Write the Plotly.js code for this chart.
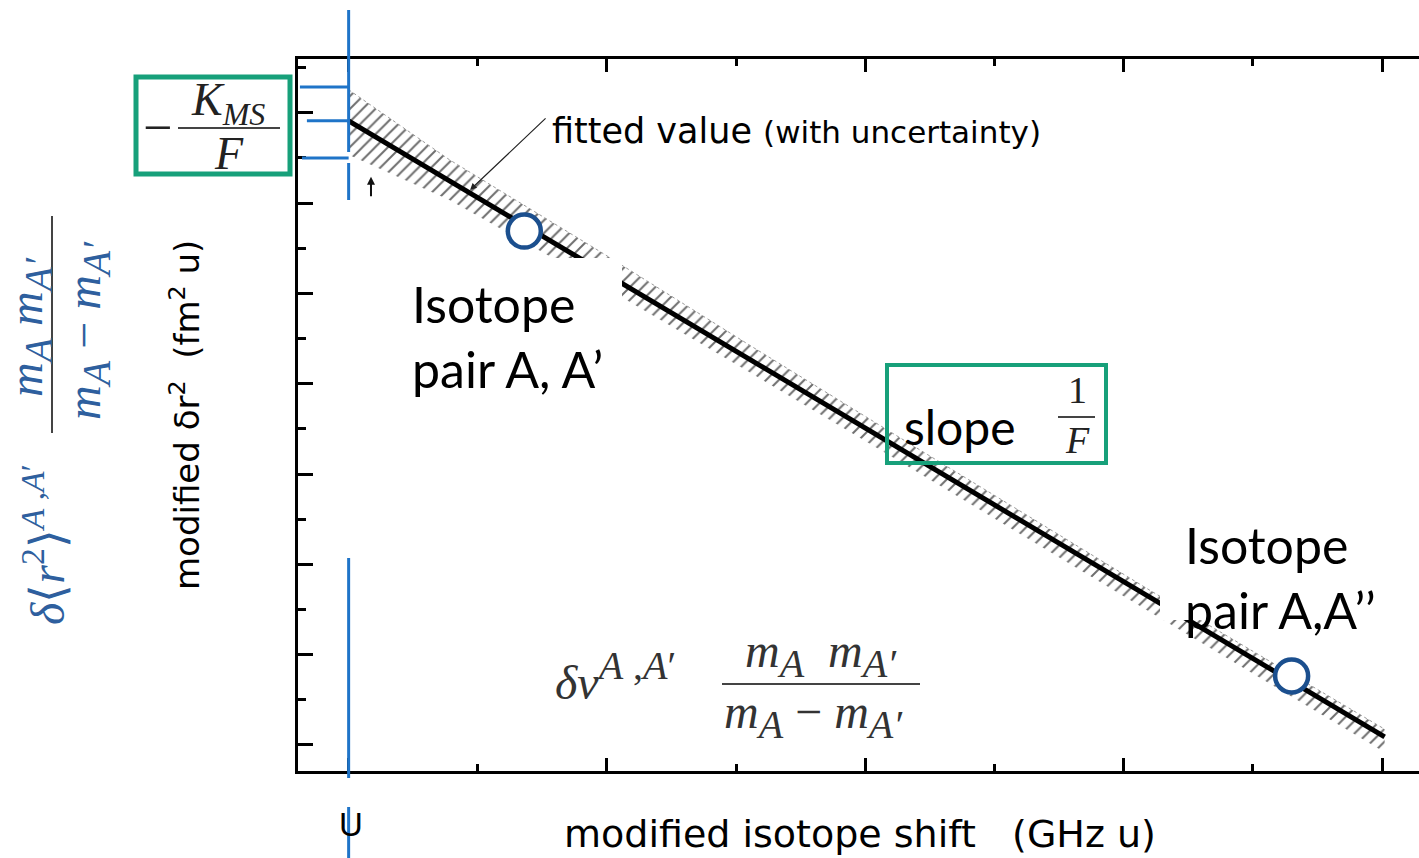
<!DOCTYPE html>
<html>
<head>
<meta charset="utf-8">
<script src="https://cdn.plot.ly/plotly-3.0.1.min.js"></script>
<style>
  html, body { margin: 0; padding: 0; background: #ffffff; }
  #chart { width: 1419px; height: 858px; }
</style>
</head>
<body>
<div id="chart"></div>
<script>
// King-plot style schematic: fitted straight line with its uncertainty band,
// two isotope-pair points and the intercept / slope annotations.

// fitted line (x in GHz u, y in fm^2 u, arbitrary units)
const fitX = [0, 8.02];
const fitY = [13.82, 0.18];

// uncertainty band around the fitted line
const bandX = [0, 0.78, 1.95, 3.1, 4.27, 6.2, 8.02];
const bandUpper = [14.51, 12.96, 10.92, 8.86, 6.80, 3.43, 0.35];
const bandLower = [13.07, 12.07, 10.19, 8.26, 6.27, 2.95, -0.16];

// measured isotope pairs (A,A') and (A,A'')
const pairNames = ["A, A\u2032", "A, A\u2033"];
const pairX = [1.36, 7.30];
const pairY = [11.38, 1.53];

// intercept at x = 0 : upper limit, fitted value, lower limit
const interceptY = [14.57, 13.82, 13.0];

// axis extents
const xRange = [-0.392, 8.286];
const yRange = [-0.576, 15.19];

// ---- layout helpers (pixel position in the 1419x858 page -> paper units)
const W = 1419, H = 858;
const M = { l: 298, r: 0, t: 59, b: 87 };
const PW = W - M.l - M.r, PH = H - M.t - M.b;
const PX = px => (px - M.l) / PW;
const PY = py => (H - M.b - py) / PH;

const BLUE = "#1f74c8";
const GREEN = "#17a07a";
const RING = "#1b4f8e";
const MATH = "Liberation Serif";
const SANS = "DejaVu Sans";
const SLIDE = "Lato";

// italic subscript that stays fairly large
const sub = (s, size) => "<sub><span style=\"font-size:" + size + "px\"><i>" + s + "</i></span></sub>";

const traces = [
  { // lower edge of the band
    x: bandX, y: bandLower, mode: "lines",
    line: { width: 0, color: "rgba(0,0,0,0)" },
    hoverinfo: "skip", showlegend: false
  },
  { // upper edge of the band, hatched down to the lower edge
    x: bandX, y: bandUpper, mode: "lines",
    line: { width: 1, color: "#9a9a9a", dash: "dot" },
    fill: "tonexty",
    fillcolor: "rgba(255,255,255,0)",
    fillpattern: { shape: "/", fgcolor: "#6e6e6e", bgcolor: "rgba(255,255,255,0)", size: 9, solidity: 0.22 },
    hoverinfo: "skip", showlegend: false
  },
  { // fitted line
    x: fitX, y: fitY, mode: "lines",
    line: { color: "#000000", width: 5 },
    hoverinfo: "skip", showlegend: false
  },
  { // isotope pairs
    x: pairX, y: pairY, text: pairNames, mode: "markers",
    marker: { symbol: "circle", size: 33, color: "#ffffff", line: { color: RING, width: 4.5 } },
    hoverinfo: "text", showlegend: false
  }
];

const shapes = [
  // white masks behind the isotope-pair labels
  { type: "rect", xref: "paper", yref: "paper", x0: PX(405), x1: PX(622), y0: PY(400), y1: PY(258),
    fillcolor: "#ffffff", line: { width: 0 }, layer: "above" },
  { type: "rect", xref: "paper", yref: "paper", x0: PX(1160), x1: PX(1419), y0: PY(620), y1: PY(518),
    fillcolor: "#ffffff", line: { width: 0 }, layer: "above" },

  // green boxes
  { type: "rect", xref: "paper", yref: "paper", x0: PX(136), x1: PX(290), y0: PY(174), y1: PY(77),
    line: { color: GREEN, width: 5 }, fillcolor: "rgba(0,0,0,0)", layer: "above" },
  { type: "rect", xref: "paper", yref: "paper", x0: PX(887), x1: PX(1106), y0: PY(463), y1: PY(365),
    line: { color: GREEN, width: 4 }, fillcolor: "rgba(0,0,0,0)", layer: "above" },

  // fraction bars
  { type: "line", xref: "paper", yref: "paper", x0: PX(178), x1: PX(280), y0: PY(128), y1: PY(128),
    line: { color: "#444444", width: 2 }, layer: "above" },
  { type: "line", xref: "paper", yref: "paper", x0: PX(1058), x1: PX(1095), y0: PY(417), y1: PY(417),
    line: { color: "#444444", width: 2 }, layer: "above" },
  { type: "line", xref: "paper", yref: "paper", x0: PX(722), x1: PX(920), y0: PY(684), y1: PY(684),
    line: { color: "#444444", width: 2 }, layer: "above" },
  { type: "line", xref: "paper", yref: "paper", x0: PX(52), x1: PX(52), y0: PY(216), y1: PY(433),
    line: { color: "#444444", width: 2 }, layer: "above" },

  // blue marker of x = 0 with the intercept bracket
  { type: "line", xref: "x", yref: "paper", x0: 0, x1: 0, y0: PY(10), y1: PY(152),
    line: { color: BLUE, width: 3 }, layer: "above" },
  { type: "line", xref: "x", yref: "paper", x0: 0, x1: 0, y0: PY(163), y1: PY(200),
    line: { color: BLUE, width: 3 }, layer: "above" },
  { type: "line", xref: "x", yref: "paper", x0: 0, x1: 0, y0: PY(558), y1: PY(778),
    line: { color: BLUE, width: 3 }, layer: "above" },
  { type: "line", xref: "x", yref: "paper", x0: 0, x1: 0, y0: PY(807), y1: PY(860),
    line: { color: BLUE, width: 3 }, layer: "above" },
  { type: "line", xref: "x", yref: "y", x0: -0.377, x1: 0, y0: interceptY[0], y1: interceptY[0],
    line: { color: BLUE, width: 3 }, layer: "above" },
  { type: "line", xref: "x", yref: "y", x0: -0.323, x1: 0, y0: interceptY[1], y1: interceptY[1],
    line: { color: BLUE, width: 3 }, layer: "above" },
  { type: "line", xref: "x", yref: "y", x0: -0.361, x1: 0, y0: interceptY[2], y1: interceptY[2],
    line: { color: BLUE, width: 3 }, layer: "above" }
];

function note(text, px, py, font, extra) {
  return Object.assign({
    text: text, xref: "paper", yref: "paper", x: PX(px), y: PY(py),
    xanchor: "center", yanchor: "middle", showarrow: false, font: font
  }, extra || {});
}

const mathDark = { family: MATH, size: 46, color: "#222222" };
const mathBlue = { family: MATH, size: 48, color: "#2e5f9e" };
const mathLow = { family: MATH, size: 48, color: "#333333" };

const annotations = [
  // -K_MS / F
  note("\u2212", 157, 127, { family: MATH, size: 52, color: "#222222" }),
  note("<i>K</i>" + sub("MS", 32), 228, 103, mathDark),
  note("<i>F</i>", 229, 153, mathDark),

  // rotated formula on the far left
  note("<i>\u03b4</i>\u27e8<i>r</i><sup>2</sup>\u27e9<sup><i>A</i> ,<i>A</i>\u2032</sup>", 44, 545, mathBlue, { textangle: -90 }),
  note("<i>m</i>" + sub("A", 40) + "\u00a0<i>m</i>" + sub("A\u2032", 40), 30, 327, mathBlue, { textangle: -90 }),
  note("<i>m</i>" + sub("A", 40) + " \u2212 <i>m</i>" + sub("A\u2032", 40), 88, 330, mathBlue, { textangle: -90 }),

  // axis titles
  note("modified \u03b4r<sup>2</sup>\u00a0\u00a0(fm<sup>2</sup> u)", 185, 415,
       { family: SANS, size: 34, color: "#000000" }, { textangle: -90 }),
  note("modified isotope shift\u00a0\u00a0\u00a0(GHz u)", 860, 834,
       { family: SANS, size: 38, color: "#000000" }),
  note("U", 351, 824, { family: "Liberation Sans", size: 33, color: "#000000" }),

  // fitted value label + arrow
  note("fitted value <span style=\"font-size:31px\">(with uncertainty)</span>", 550, 131,
       { family: SANS, size: 35, color: "#000000" }, { xanchor: "left" }),
  { text: "", xref: "x", yref: "y", x: 0.94, y: 12.29, ax: 77, ay: -73,
    showarrow: true, arrowhead: 2, arrowsize: 1.1, arrowwidth: 1.2, arrowcolor: "#222222", standoff: 0 },
  { text: "", xref: "x", yref: "y", x: 0.173, y: 12.58, ax: 0, ay: 21,
    showarrow: true, arrowhead: 2, arrowsize: 0.8, arrowwidth: 2, arrowcolor: "#111111", standoff: 0 },

  // isotope pair labels
  note("Isotope<br>pair " + pairNames[0].replace("\u2032", "\u2019"), 410, 336,
       { family: SLIDE, size: 50, color: "#000000" }, { xanchor: "left", align: "left" }),
  note("Isotope<br>pair " + pairNames[1].replace(" ", "").replace("\u2033", "\u2019\u2019"), 1183, 577,
       { family: SLIDE, size: 50, color: "#000000" }, { xanchor: "left", align: "left" }),

  // slope 1/F
  note("slope", 960, 426, { family: SLIDE, size: 48, color: "#000000" }),
  note("1", 1077, 390, { family: MATH, size: 38, color: "#222222" }),
  note("<i>F</i>", 1077, 440, { family: MATH, size: 38, color: "#222222" }),

  // modified isotope shift formula
  note("<i>\u03b4\u03bd</i><sup><span style=\"font-size:40px\"><i>A</i> ,<i>A</i>\u2032</span></sup>", 553, 676, mathLow, { xanchor: "left" }),
  note("<i>m</i>" + sub("A", 40) + "\u00a0\u00a0<i>m</i>" + sub("A\u2032", 40), 821, 655, mathLow),
  note("<i>m</i>" + sub("A", 40) + " \u2212 <i>m</i>" + sub("A\u2032", 40), 813, 716, mathLow)
];

const layout = {
  width: W, height: H,
  margin: M,
  paper_bgcolor: "#ffffff",
  plot_bgcolor: "#ffffff",
  showlegend: false,
  xaxis: {
    range: xRange, showgrid: false, zeroline: false,
    showline: true, linewidth: 3, linecolor: "#000000", mirror: "ticks",
    ticks: "inside", ticklen: 13, tickwidth: 3, tickcolor: "#000000",
    tick0: 0, dtick: 2, showticklabels: false,
    minor: { ticks: "inside", ticklen: 7, tickwidth: 3, tickcolor: "#000000", tick0: 0, dtick: 1 }
  },
  yaxis: {
    range: yRange, showgrid: false, zeroline: false,
    showline: true, linewidth: 3, linecolor: "#000000", mirror: false,
    ticks: "inside", ticklen: 15, tickwidth: 3, tickcolor: "#000000",
    tick0: 0, dtick: 2, showticklabels: false,
    minor: { ticks: "inside", ticklen: 8, tickwidth: 3, tickcolor: "#000000", tick0: 0, dtick: 1 }
  },
  shapes: shapes,
  annotations: annotations
};

Plotly.newPlot("chart", traces, layout, { displayModeBar: false, staticPlot: true });
</script>
</body>
</html>
